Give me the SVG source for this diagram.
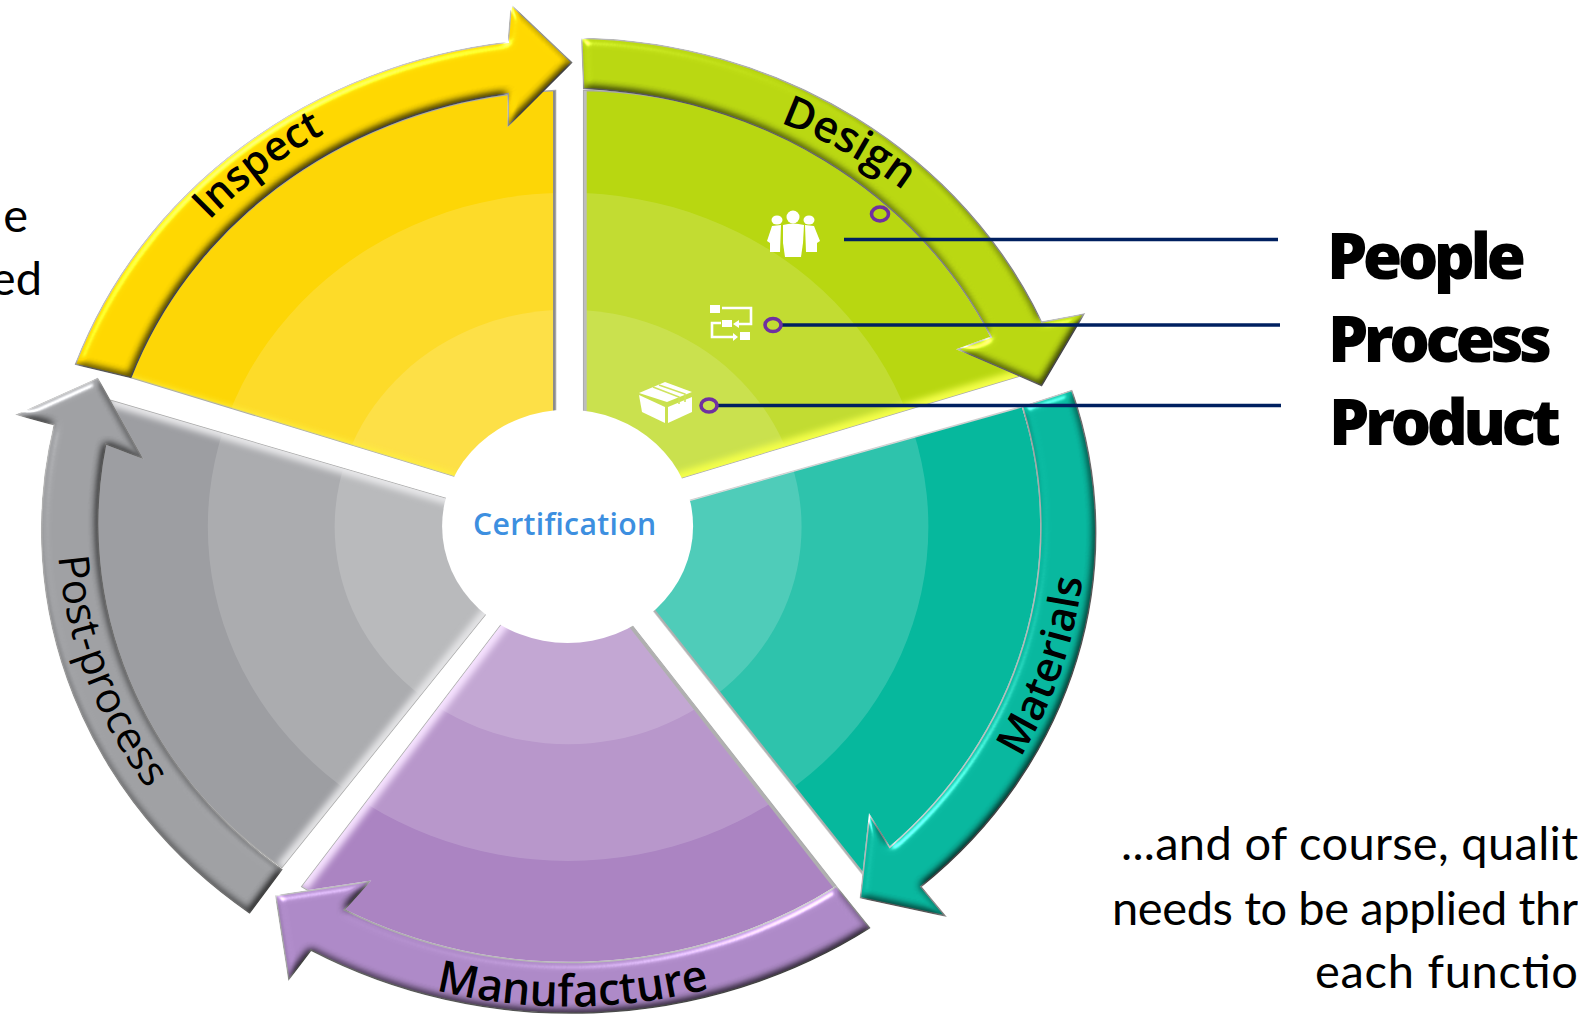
<svg xmlns="http://www.w3.org/2000/svg" width="1578" height="1015" viewBox="0 0 1578 1015">
<style>
.body{font-family:"Lato","Open Sans",sans-serif;font-size:47px;fill:#000}
.big{font-family:"Open Sans","Liberation Sans",sans-serif;font-size:64px;font-weight:800;fill:#000}
.lab{font-family:"Open Sans","Liberation Sans",sans-serif;font-weight:600;fill:#000}
.arrow{stroke:#b5b5b5;stroke-width:1.5;filter:url(#bevel)}
.band{fill:#fff}
.edge{fill:none;filter:url(#soft)}
.conn{stroke:#002060;stroke-width:3.4;fill:none}
.dot{stroke:#7030a0;stroke-width:3.6;fill:none}
.ic{fill:#fff}
.icl{fill:none;stroke:#fff;stroke-width:2.6}
</style>
<defs>
<filter id="bevel" x="-5%" y="-5%" width="110%" height="110%" color-interpolation-filters="sRGB">
<feGaussianBlur in="SourceAlpha" stdDeviation="4" result="b"/>
<feDiffuseLighting in="b" surfaceScale="5" diffuseConstant="1.15" lighting-color="#fff" result="d"><feDistantLight azimuth="235" elevation="60"/></feDiffuseLighting>
<feSpecularLighting in="b" surfaceScale="5" specularConstant=".45" specularExponent="40" lighting-color="#fff" result="s"><feDistantLight azimuth="235" elevation="35"/></feSpecularLighting>
<feBlend in="SourceGraphic" in2="d" mode="multiply" result="m"/>
<feComposite in="m" in2="s" operator="arithmetic" k1="0" k2="1" k3="1" k4="0" result="r"/>
<feComposite in="r" in2="SourceAlpha" operator="in"/>
</filter>
<filter id="soft" x="-10%" y="-10%" width="120%" height="120%"><feGaussianBlur stdDeviation="3"/></filter>
<path id="pDesign" d="M578,38 A512,474 0 0 1 1035,320 L1077,312 L1035,383 L952,347 L985,335 A470,434 0 0 0 580,88 Z"/>
<clipPath id="cDesign"><path d="M580,90 A470,434 0 0 1 1012,374 L600,498 L580,498 Z"/></clipPath>
<clipPath id="cInspect"><path d="M130,375 A470,434 0 0 1 552,90 L552,486 L500,488 Z"/></clipPath>
<clipPath id="cMat"><path d="M640,510 L1016,404 A470,434 0 0 1 858,870 L620,570 Z"/></clipPath>
<clipPath id="cMan"><path d="M520,592 L300,881 A470,434 0 0 0 831,881 L604,591 Z"/></clipPath>
<clipPath id="cPost"><path d="M110,398 A470,434 0 0 0 280,862 L510,576 L500,512 Z"/></clipPath>
<path id="tDesign" d="M775,122 A484,447 0 0 1 985,275"/>
<path id="tInspect" d="M208,219 A487,450 0 0 1 500,75"/>
<path id="tMat" d="M1014,753 A513,473 0 0 0 1078,500"/>
<path id="tMan" d="M433,984 A514,475 0 0 0 760,965"/>
<path id="tPost" d="M58,553 A507,467 0 0 0 230,870"/>
</defs>
<rect width="1578" height="1015" fill="#fff"/>
<g id="note-left">
<text class="body" x="28" y="232" text-anchor="end">e</text>
<text class="body" x="42" y="295" text-anchor="end">ed</text>
</g>
<g id="wheel" transform="scale(1.00638)">
<g id="inspect">
<path fill="#fdd606" stroke="#a9a9a9" stroke-width="1.5" d="M130,375 A470,434 0 0 1 552,90 L552,486 L500,488 Z"/>
<g clip-path="url(#cInspect)">
<ellipse class="band" cx="564.5" cy="523.5" rx="358" ry="332" opacity=".14"/>
<ellipse class="band" cx="564.5" cy="523.5" rx="232" ry="216" opacity=".14"/>
<path class="edge" stroke="#fff23c" stroke-width="13" d="M126,380 L500,492"/>
<path d="M552,90 V486" stroke="#8c8c8c" stroke-width="5" fill="none"/>
</g>
<path class="arrow" fill="#ffd800" d="M75,362 A526,486 0 0 1 505,42 L508,5 L568,62 L505,125 L505,93 A470,434 0 0 0 130,375 Z"/>
<text class="lab" font-size="41"><textPath href="#tInspect">Inspect</textPath></text>
</g>
<g id="design">
<path fill="#b8d711" stroke="#a9a9a9" stroke-width="1.5" d="M580,90 A470,434 0 0 1 1012,374 L600,498 L580,498 Z"/>
<g clip-path="url(#cDesign)">
<ellipse class="band" cx="564.5" cy="523.5" rx="358" ry="332" opacity=".14"/>
<ellipse class="band" cx="564.5" cy="523.5" rx="232" ry="216" opacity=".14"/>
<path class="edge" stroke="#f4ff48" stroke-width="14" d="M1016,373 L600,499"/>
<path d="M580,90 V420" stroke="#bdbdbd" stroke-width="6" fill="none"/>
</g>
<use href="#pDesign" class="arrow" fill="#bad811"/>
<text class="lab" font-size="43"><textPath href="#tDesign">Design</textPath></text>
</g>
<g id="materials">
<path fill="#06b89d" stroke="#cfcfcf" stroke-width="1.5" d="M640,510 L1016,404 A470,434 0 0 1 858,870 L620,570 Z"/>
<g clip-path="url(#cMat)">
<ellipse class="band" cx="564.5" cy="523.5" rx="358" ry="332" opacity=".16"/>
<ellipse class="band" cx="564.5" cy="523.5" rx="232" ry="216" opacity=".16"/>
<path d="M620,570 L858,870" stroke="#b0b0b0" stroke-width="4" fill="none"/>
</g>
<path class="arrow" fill="#08b89f" d="M1065,388 A505,466 0 0 1 915,881 L939,910 L855,892 L864,810 L884,842 A470,434 0 0 0 1016,404 Z"/>
<text class="lab" font-size="42"><textPath href="#tMat">Materials</textPath></text>
</g>
<g id="manufacture">
<path fill="#ab84c2" stroke="#a9a9a9" stroke-width="1.5" d="M520,592 L300,881 A470,434 0 0 0 831,881 L604,591 Z"/>
<g clip-path="url(#cMan)">
<ellipse class="band" cx="564.5" cy="523.5" rx="358" ry="332" opacity=".16"/>
<ellipse class="band" cx="564.5" cy="523.5" rx="232" ry="216" opacity=".16"/>
<path class="edge" stroke="#f6e2ff" stroke-width="13" d="M520,592 L300,881"/>
<path d="M604,591 L831,881" stroke="#b0b0b0" stroke-width="6" fill="none"/>
</g>
<path class="arrow" fill="#ae8ac8" d="M864,922 A526,486 0 0 1 309,944 L287,973 L274,890 L367,876 L342,904 A470,434 0 0 0 831,881 Z"/>
<text class="lab" font-size="44"><textPath href="#tMan">Manufacture</textPath></text>
</g>
<g id="post-process">
<path fill="#9d9ea2" stroke="#a9a9a9" stroke-width="1.5" d="M110,398 A470,434 0 0 0 280,862 L510,576 L500,512 Z"/>
<g clip-path="url(#cPost)">
<ellipse class="band" cx="564.5" cy="523.5" rx="358" ry="332" opacity=".15"/>
<ellipse class="band" cx="564.5" cy="523.5" rx="232" ry="216" opacity=".17"/>
<path class="edge" stroke="#e8e8ea" stroke-width="11" d="M110,398 L500,512"/>
<path class="edge" stroke="#e4e4e6" stroke-width="12" d="M280,862 L510,576"/>
</g>
<path class="arrow" fill="#a0a1a4" d="M248,907 A512,474 0 0 1 54,422 L17,412 L97,376 L141,455 L105,441 A470,434 0 0 0 280,864 Z"/>
<text class="lab" font-size="42" style="font-weight:500"><textPath href="#tPost">Post-process</textPath></text>
</g>
<g id="center">
<ellipse cx="564" cy="523" rx="124.7" ry="115.8" fill="#fff"/>
<text x="470" y="532" font-family="Open Sans, Liberation Sans, sans-serif" font-size="30" font-weight="600" fill="#3d8fe0" textLength="182">Certification</text>
</g>
</g>
<g id="icon-people">
<circle class="ic" cx="793" cy="217" r="6.5"/><ellipse class="ic" cx="777" cy="220" rx="5.5" ry="4.5"/><ellipse class="ic" cx="809" cy="220" rx="5.5" ry="4.5"/>
<path class="ic" d="M783,225 Q793,222 804,225 L803,243 L801,257 L785,257 L783,243 Z"/>
<path class="ic" d="M772,226 L781,225 L780,252 L770,252 L770,243 L767,241 Z"/>
<path class="ic" d="M814,226 L805,225 L806,252 L817,252 L817,243 L820,241 Z"/>
</g>
<g id="icon-process">
<rect class="ic" x="710" y="305" width="10" height="8"/><rect class="ic" x="722" y="320" width="10" height="7"/><rect class="ic" x="740" y="332" width="10" height="8"/>
<path class="icl" d="M722,308 H751 V324 H738"/><path class="ic" d="M733,324 L739,320 V328 Z"/>
<path class="icl" d="M721,323 H712 V337 H735"/><path class="ic" d="M738,337 L733,333 V341 Z"/>
</g>
<g id="icon-product">
<path class="ic" d="M639,393 L665,382 L692,392 L667,402 Z"/>
<path class="ic" d="M639,395 L665,407 V423 L642,412 Z"/>
<path class="ic" d="M668,407 L692,397 V412 L668,423 Z"/>
<path d="M653,387 L679,397 V404 M659,385 L685,394 V402" fill="none" stroke="#cfe35e" stroke-width="1.6"/>
</g>
<g id="connectors">
<path class="conn" d="M844,239.5 H1278"/>
<path class="conn" d="M781,325 H1280"/>
<path class="conn" d="M717,405.5 H1281"/>
<ellipse class="dot" cx="880" cy="214" rx="8.5" ry="7"/>
<ellipse class="dot" cx="773" cy="325" rx="8" ry="6.5"/>
<ellipse class="dot" cx="709" cy="405.5" rx="8" ry="6.5"/>
</g>
<g id="label-people"><text class="big" x="1327" y="279" textLength="199">People</text></g>
<g id="label-process"><text class="big" x="1328" y="362" textLength="224">Process</text></g>
<g id="label-product"><text class="big" x="1329" y="445" textLength="232">Product</text></g>
<g id="note-right">
<text class="body" x="1121" y="860" textLength="457">...and of course, qualit</text>
<text class="body" x="1112" y="925" textLength="466">needs to be applied thr</text>
<text class="body" x="1315" y="988" textLength="263">each functio</text>
</g>
</svg>
